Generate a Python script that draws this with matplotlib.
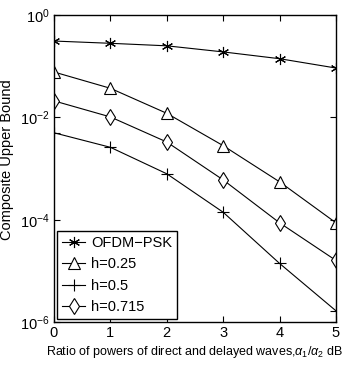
import matplotlib
matplotlib.use("Agg")
import matplotlib.pyplot as plt

fam = 'Liberation Sans'
plt.rcParams['font.family'] = [fam, 'DejaVu Sans']
plt.rcParams['mathtext.fontset'] = 'custom'
plt.rcParams['mathtext.rm'] = fam
plt.rcParams['mathtext.it'] = fam + ':italic'

x = [0, 1, 2, 3, 4, 5]
ofdm_psk = [0.31, 0.28, 0.25, 0.19, 0.14, 0.092]
h025 = [0.077, 0.037, 0.012, 0.0028, 5.5e-4, 8.7e-5]
h05 = [0.005, 0.0026, 7.9e-4, 1.4e-4, 1.4e-5, 1.66e-6]
h0715 = [0.021, 0.0102, 0.0033, 6.0e-4, 8.7e-5, 1.6e-5]
labels = ['OFDM\u2212PSK', 'h=0.25', 'h=0.5', 'h=0.715']

fig = plt.figure(figsize=(3.46, 3.66), dpi=100)
ax = fig.add_axes([0.156, 0.120, 0.815, 0.839])

kw = dict(color='black', lw=0.8, mfc='white', mec='black', mew=0.8)
ax.semilogy(x, ofdm_psk, marker=(6, 2, 0), ms=8, label=labels[0], **kw)
ax.semilogy(x, h025, marker='^', ms=8, label=labels[1], **kw)
ax.semilogy(x, h05, marker='+', ms=9, label=labels[2], **kw)
ax.semilogy(x, h0715, marker='d', ms=8, label=labels[3], **kw)

ax.set_xlim(0, 5)
ax.set_ylim(1e-6, 1)
ax.set_yticks([1e-6, 1e-4, 1e-2, 1])
ax.minorticks_off()
ax.tick_params(direction='in', top=True, right=True, labelsize=10.5, length=4, width=0.8, pad=3)
for s in ax.spines.values():
    s.set_linewidth(1.0)

ax.set_xlabel(r'Ratio of powers of direct and delayed waves,$\alpha_1/\alpha_2$ dB', fontsize=9, labelpad=2.5)
ax.set_ylabel('Composite Upper Bound', fontsize=10.5)
ax.yaxis.set_label_coords(-0.14, 0.53)

leg = ax.legend(loc='lower left', fontsize=10.5, fancybox=False, edgecolor='black',
                framealpha=1, borderaxespad=0.2, handlelength=1.6, handletextpad=0.4,
                labelspacing=0.5, borderpad=0.35)
leg.get_frame().set_linewidth(1.0)

fig.savefig('out.png', dpi=100)
